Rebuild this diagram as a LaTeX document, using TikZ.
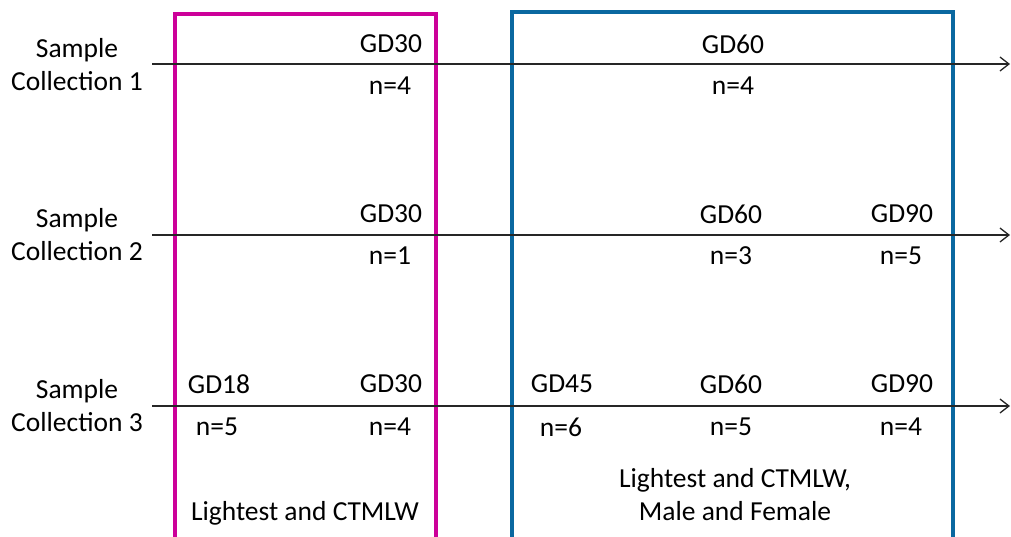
\documentclass[tikz,border=0pt]{standalone}
\usepackage{fontspec}
\setmainfont{Carlito}
\usetikzlibrary{arrows.meta}
\definecolor{boxmag}{RGB}{204,0,153}
\definecolor{boxblue}{RGB}{10,104,160}
\tikzset{
  lbl/.style={inner sep=0pt, font=\fontsize{27.5}{33}\selectfont, align=center},
  timeline/.style={line width=1.3pt, draw=black!85, -{Straight Barb[length=9pt,width=14pt,line width=1.3pt]}},
  groupbox/.style={line width=4pt}
}
\begin{document}
\begin{tikzpicture}[x=1pt,y=-1pt]
\useasboundingbox (0,0) rectangle (1011,536);
\clip (0,0) rectangle (1011,536);
% group boxes
\draw[groupbox, draw=boxmag] (175,560) -- (175,14) -- (436,14) -- (436,560);
\draw[groupbox, draw=boxblue] (511.5,560) -- (511.5,12) -- (953,12) -- (953,560);
% timelines
\coordinate (s1) at (152,64);  \coordinate (e1) at (1010,64);
\coordinate (s2) at (152,235); \coordinate (e2) at (1010,235);
\coordinate (s3) at (152,406); \coordinate (e3) at (1010,406);
\draw[timeline] (s1) -- (e1);
\draw[timeline] (s2) -- (e2);
\draw[timeline] (s3) -- (e3);
% row labels
\node[lbl] (c1) at (77,65) {Sample\\Collection 1};
\node[lbl] (c2) at (77,235) {Sample\\Collection 2};
\node[lbl] (c3) at (77,406) {Sample\\Collection 3};
% row 1
\node[lbl] (r1a) at (391,44) {GD30};
\node[lbl] (r1an) at (390,86) {n=4};
\node[lbl] (r1b) at (733,44) {GD60};
\node[lbl] (r1bn) at (733,86) {n=4};
% row 2
\node[lbl] (r2a) at (391,214) {GD30};
\node[lbl] (r2an) at (390,256) {n=1};
\node[lbl] (r2b) at (731,214) {GD60};
\node[lbl] (r2bn) at (731,256) {n=3};
\node[lbl] (r2c) at (902,214) {GD90};
\node[lbl] (r2cn) at (901,256) {n=5};
% row 3
\node[lbl] (r3a) at (219,384) {GD18};
\node[lbl] (r3an) at (217,427) {n=5};
\node[lbl] (r3b) at (391,384) {GD30};
\node[lbl] (r3bn) at (390,427) {n=4};
\node[lbl] (r3c) at (562,384) {GD45};
\node[lbl] (r3cn) at (561,427) {n=6};
\node[lbl] (r3d) at (731,384) {GD60};
\node[lbl] (r3dn) at (731,427) {n=5};
\node[lbl] (r3e) at (902,384) {GD90};
\node[lbl] (r3en) at (901,427) {n=4};
% group captions
\node[lbl] (g1) at (305,513) {Lightest and CTMLW};
\node[lbl] (g2) at (735,495) {Lightest and CTMLW,\\Male and Female};
\end{tikzpicture}
\end{document}
